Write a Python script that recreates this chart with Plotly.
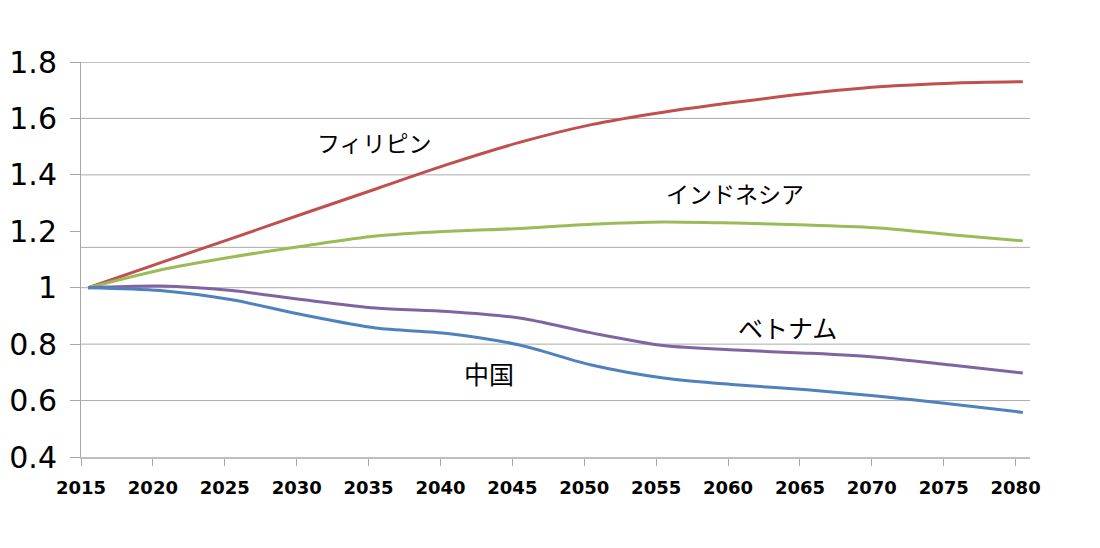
import plotly.graph_objects as go

years = [2015, 2020, 2025, 2030, 2035, 2040, 2045, 2050, 2055, 2060, 2065, 2070, 2075, 2080]
philippines = [1.0, 1.088, 1.175, 1.263, 1.35, 1.437, 1.515, 1.578, 1.622, 1.657, 1.688, 1.712, 1.725, 1.73]
indonesia = [1.0, 1.063, 1.109, 1.148, 1.183, 1.200, 1.21, 1.225, 1.233, 1.229, 1.222, 1.212, 1.188, 1.166]
vietnam = [1.0, 1.006, 0.99, 0.957, 0.928, 0.916, 0.893, 0.84, 0.795, 0.779, 0.768, 0.753, 0.726, 0.698]
china = [1.0, 0.99, 0.957, 0.903, 0.857, 0.838, 0.797, 0.726, 0.68, 0.656, 0.638, 0.615, 0.588, 0.558]

series_names = ["フィリピン", "インドネシア", "ベトナム", "中国"]
series_colors = ["#C0504D", "#9BBB59", "#8064A2", "#4F81BD"]
label_x = [2034.9, 2060.0, 2063.6, 2042.9]
label_y = [1.517, 1.336, 0.861, 0.698]
label_sizes = [23, 23, 25, 25]

y_ticks = [0.4, 0.6, 0.8, 1.0, 1.2, 1.4, 1.6, 1.8]
y_tick_text = ["0.4", "0.6", "0.8", "1", "1.2", "1.4", "1.6", "1.8"]
grid_values = [0.6, 0.8, 1.0, 1.143, 1.4, 1.6]
x_tick_years = [2015, 2020, 2025, 2030, 2035, 2040, 2045, 2050, 2055, 2060, 2065, 2070, 2075, 2080]

fig = go.Figure()

all_series = [philippines, indonesia, vietnam, china]
for name, vals, col in zip(series_names, all_series, series_colors):
    fig.add_trace(go.Scatter(
        x=years, y=vals, mode="lines", name=name,
        line=dict(color=col, width=3, shape="spline", smoothing=0.8),
        showlegend=False, hoverinfo="skip"))

for g in grid_values:
    fig.add_shape(type="line", xref="paper", yref="y", x0=0, x1=1, y0=g, y1=g,
                  line=dict(color="#ABABAB", width=1), layer="below")
fig.add_shape(type="line", xref="paper", yref="y", x0=0, x1=1, y0=1.8, y1=1.8,
              line=dict(color="#868686", width=1), layer="below")

for name, lx, ly, fs in zip(series_names, label_x, label_y, label_sizes):
    fig.add_annotation(x=lx, y=ly, text=name, showarrow=False,
                       font=dict(family="Noto Sans CJK JP", size=fs, color="#000000"),
                       xanchor="center", yanchor="middle")

fig.update_layout(
    width=1100, height=548,
    margin=dict(l=73, r=78, t=54, b=99, autoexpand=False),
    paper_bgcolor="white", plot_bgcolor="white",
    xaxis=dict(
        range=[2014.5, 2080.5],
        tickvals=[y - 0.5 for y in x_tick_years],
        ticktext=[str(y) for y in x_tick_years],
        ticks="outside", ticklen=7, tickcolor="#A6A6A6", tickwidth=1,
        showline=True, linecolor="#BFBFBF", linewidth=2,
        showgrid=False, zeroline=False,
        tickfont=dict(family="DejaVu Sans", size=18, color="#000000", weight="bold"),
        ticklabelstandoff=6,
    ),
    yaxis=dict(
        range=[0.4, 1.8],
        tickvals=y_ticks, ticktext=y_tick_text,
        ticks="outside", ticklen=10, tickcolor="#A6A6A6", tickwidth=1,
        showline=True, linecolor="#A6A6A6", linewidth=1,
        showgrid=False, zeroline=False,
        tickfont=dict(family="DejaVu Sans", size=30, color="#000000"),
        ticklabelstandoff=7,
    ),
)

fig.write_html("out.html")
